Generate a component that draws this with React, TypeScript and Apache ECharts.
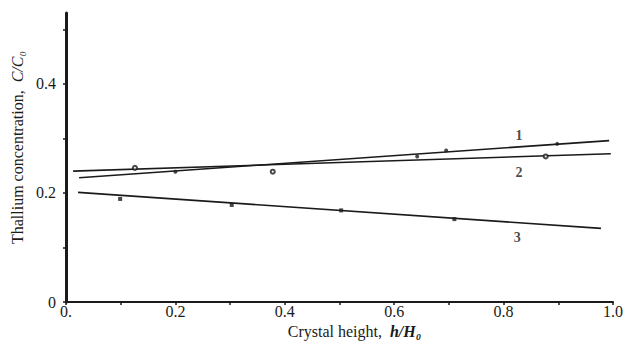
import React, { useEffect, useRef } from "react";
import * as echarts from "echarts";

// Fitted straight lines (endpoints)
const line1 = [[0.024, 0.228], [0.993, 0.296]];
const line2 = [[0.013, 0.240], [0.996, 0.272]];
const line3 = [[0.022, 0.201], [0.978, 0.135]];

// Measured points
const points1 = [[0.2, 0.239], [0.642, 0.267], [0.695, 0.278], [0.898, 0.29]];
const points2 = [[0.126, 0.246], [0.378, 0.239], [0.877, 0.267]];
const points3 = [[0.099, 0.189], [0.303, 0.178], [0.503, 0.168], [0.71, 0.152]];

// Curve number labels (data space)
const curveLabels = [
  { name: "1", value: [0.828, 0.306] },
  { name: "2", value: [0.828, 0.237] },
  { name: "3", value: [0.825, 0.119] },
];

const xTicks = [0, 0.2, 0.4, 0.6, 0.8, 1.0];
const yTicks = [0, 0.2, 0.4];

const FONT = "'Liberation Serif', 'DejaVu Serif', serif";
const INK = "#1a1a1a";

export default function App() {
  const ref = useRef<HTMLDivElement>(null);
  useEffect(() => {
    document.body.style.margin = "0";
    const chart = echarts.init(ref.current!, null, { renderer: "svg" });
    const lineSeries = (data: number[][]) => ({
      type: "line",
      data,
      symbol: "none",
      lineStyle: { color: INK, width: 1.6 },
      z: 2,
    });
    const pointSeries = (data: number[][], symbol: string) => ({
      type: "scatter",
      data,
      symbol,
      symbolSize: 4,
      itemStyle: { color: INK },
      z: 3,
    });
    chart.setOption({
      animation: false,
      backgroundColor: "#ffffff",
      grid: { left: 66, right: 12, top: 13, bottom: 51 },
      xAxis: {
        type: "value",
        min: 0,
        max: 1,
        interval: 0.1,
        name: "{t|Crystal height,  }{i|h/H₀}",
        nameLocation: "middle",
        nameGap: 18,
        nameTextStyle: {
          padding: [0, 0, 0, 30],
          rich: {
            t: { fontFamily: FONT, fontSize: 16, color: INK },
            i: { fontFamily: FONT, fontSize: 16, color: INK, fontStyle: "italic", fontWeight: "bold" },
          },
        },
        axisLine: { lineStyle: { color: INK, width: 2 } },
        axisTick: { show: true, length: 3, lineStyle: { color: INK, width: 1.5 } },
        axisLabel: {
          fontFamily: FONT,
          fontSize: 16,
          color: INK,
          margin: 1,
          formatter: (v: number) => {
            const r = Math.round(v * 10) / 10;
            if (!xTicks.some((t) => Math.abs(t - r) < 1e-6)) return "";
            return r === 0 ? "0." : r.toFixed(1);
          },
        },
        splitLine: { show: false },
      },
      yAxis: {
        type: "value",
        min: 0,
        max: 0.53,
        interval: 0.1,
        name: "{t|Thallium concentration,  }{i|C/C₀}",
        nameLocation: "middle",
        nameGap: 40,
        nameRotate: 90,
        nameTextStyle: {
          padding: [0, 0, 0, 20],
          rich: {
            t: { fontFamily: FONT, fontSize: 16, color: INK },
            i: { fontFamily: FONT, fontSize: 16, color: INK, fontStyle: "italic" },
          },
        },
        axisLine: { show: true, lineStyle: { color: INK, width: 3 } },
        axisTick: { show: true, length: 3, lineStyle: { color: INK, width: 1.5 } },
        axisLabel: {
          fontFamily: FONT,
          fontSize: 16,
          color: INK,
          margin: 10,
          showMaxLabel: false,
          formatter: (v: number) => {
            const r = Math.round(v * 10) / 10;
            if (!yTicks.some((t) => Math.abs(t - r) < 1e-6)) return "";
            return r === 0 ? "0" : r.toFixed(1);
          },
        },
        splitLine: { show: false },
      },
      series: [
        lineSeries(line1),
        lineSeries(line2),
        lineSeries(line3),
        pointSeries(points1, "circle"),
        pointSeries(points2, "emptyCircle"),
        pointSeries(points3, "rect"),
        {
          type: "scatter",
          data: curveLabels,
          symbolSize: 0,
          label: {
            show: true,
            formatter: "{b}",
            fontFamily: FONT,
            fontSize: 14,
            fontWeight: "bold",
            color: INK,
            position: "inside",
          },
          z: 4,
        },
      ],
    });
    return () => chart.dispose();
  }, []);
  return <div ref={ref} style={{ width: 626, height: 353 }} />;
}
